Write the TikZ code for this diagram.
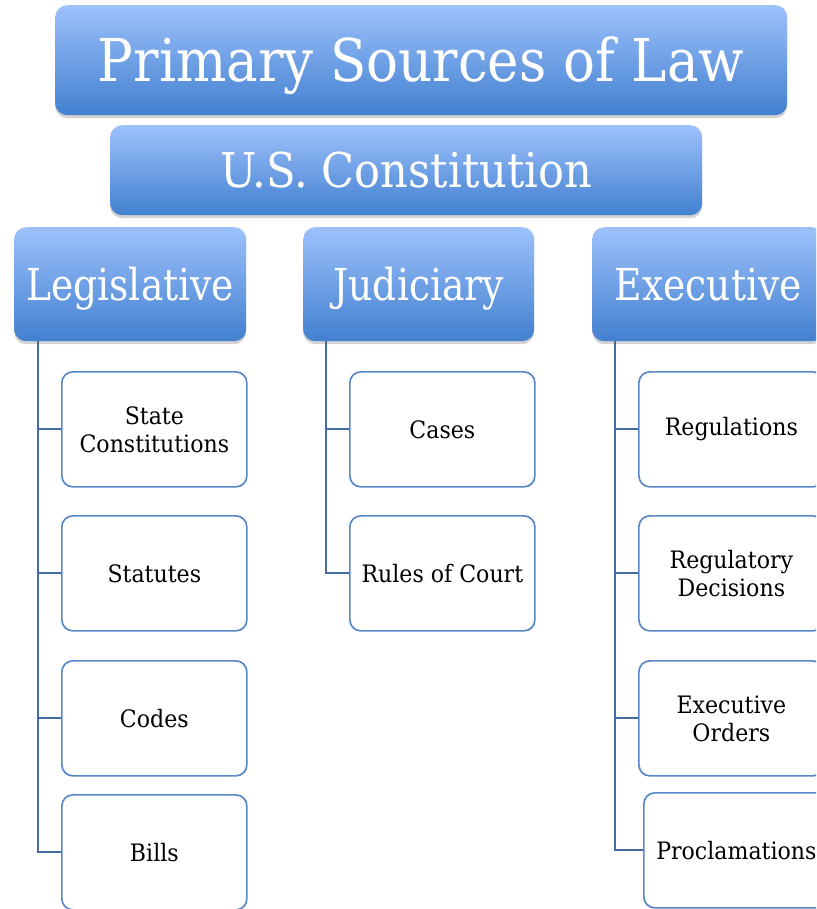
\documentclass[tikz,border=0pt]{standalone}
\usepackage{fontspec}
\setmainfont{DejaVu Serif}
\newfontfamily\fontA[FakeStretch=0.90]{DejaVu Serif}
\newfontfamily\fontB[FakeStretch=0.90]{DejaVu Serif}
\newfontfamily\fontC[FakeStretch=0.855]{DejaVu Serif}
\newfontfamily\fontD[FakeStretch=0.92]{DejaVu Serif}
\usetikzlibrary{shadows}
\definecolor{gtop}{RGB}{157,193,251}
\definecolor{gbot}{RGB}{66,128,208}
\definecolor{cborder}{RGB}{88,136,200}
\definecolor{cline}{RGB}{68,108,162}
\tikzset{
  x=1pt, y=1pt,
  hdr/.style={anchor=north west, inner sep=0pt, rounded corners=12pt,
    top color=gtop, bottom color=gbot, draw=none, text=white,
    drop shadow={opacity=0.35, shadow xshift=0pt, shadow yshift=-3pt}},
  child/.style={anchor=north west, inner sep=0pt, rounded corners=11pt,
    draw=cborder, line width=1.7pt, fill=white, text=black,
    minimum width=185pt, minimum height=115pt, align=center,
    font=\fontD\fontsize{24}{28}\selectfont},
  conn/.style={draw=cline, line width=1.8pt},
}
\begin{document}
\begin{tikzpicture}
\useasboundingbox (0,0) rectangle (816,-909);
\begin{scope}
\clip (0,0) rectangle (816,-909);
\node[hdr, minimum width=732pt, minimum height=110pt, text height=43pt, text depth=0pt, yshift=2pt, font=\fontA\fontsize{59}{64}\selectfont] (psl) at (55,-7) {Primary Sources of Law};
\node[hdr, minimum width=592pt, minimum height=90pt, text height=35pt, text depth=0pt, yshift=1pt, font=\fontB\fontsize{48}{52}\selectfont] (usc) at (110,-126) {U.S. Constitution};
\node[hdr, minimum width=232pt, minimum height=114pt, text height=32pt, text depth=0pt, font=\fontC\fontsize{44}{48}\selectfont] (leg) at (14,-227) {Legislative};
\node[hdr, minimum width=231pt, minimum height=114pt, text height=32pt, text depth=0pt, font=\fontC\fontsize{44}{48}\selectfont] (jud) at (303,-227) {Judiciary};
\node[hdr, minimum width=232pt, minimum height=114pt, text height=32pt, text depth=0pt, font=\fontC\fontsize{44}{48}\selectfont] (exe) at (592,-227) {Executive};

\node[child] (l1) at (61,-371) {State\\Constitutions};
\node[child] (l2) at (61,-515) {Statutes};
\node[child] (l3) at (61,-660) {Codes};
\node[child] (l4) at (61,-794) {Bills};

\node[child] (j1) at (349,-371) {Cases};
\node[child] (j2) at (349,-515) {Rules of Court};

\node[child] (e1) at (638,-371) {Regulations};
\node[child] (e2) at (638,-515) {Regulatory\\Decisions};
\node[child] (e3) at (638,-660) {Executive\\Orders};
\node[child] (e4) at (643,-792) {Proclamations};

\coordinate (lt) at ([xshift=24pt]leg.south west);
\coordinate (jt) at ([xshift=23pt]jud.south west);
\coordinate (et) at ([xshift=23pt]exe.south west);
\foreach \c in {l1,l2,l3,l4} \draw[conn] (lt) |- (\c.west);
\foreach \c in {j1,j2} \draw[conn] (jt) |- (\c.west);
\foreach \c in {e1,e2,e3,e4} \draw[conn] (et) |- (\c.west);
\end{scope}
\end{tikzpicture}
\end{document}
